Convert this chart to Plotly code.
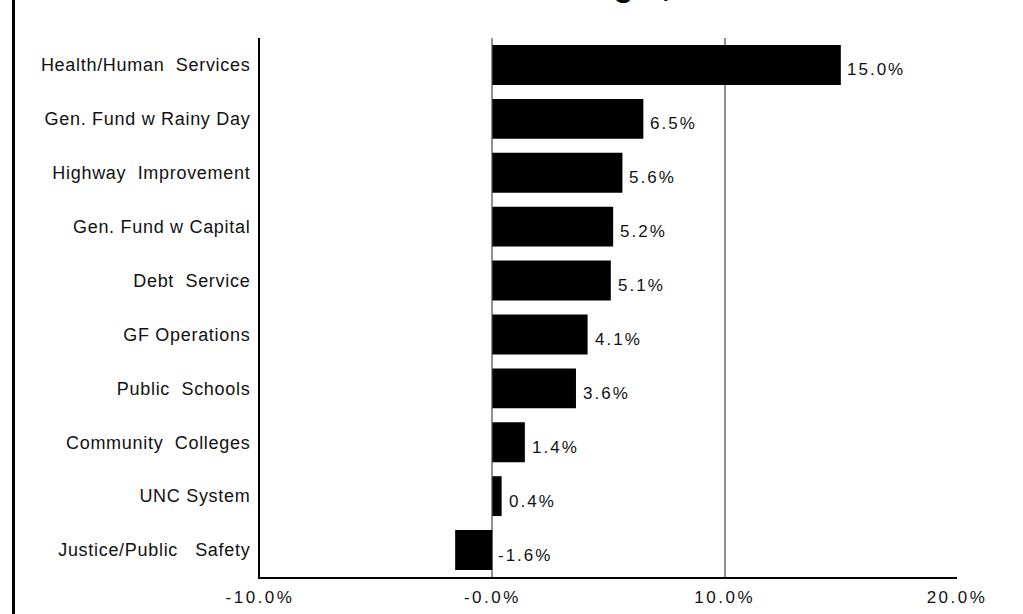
import plotly.graph_objects as go

categories = ["Health/Human\u00a0\u00a0Services", "Gen. Fund w Rainy Day", "Highway\u00a0\u00a0Improvement",
              "Gen. Fund w Capital", "Debt\u00a0\u00a0Service", "GF Operations", "Public\u00a0\u00a0Schools",
              "Community\u00a0\u00a0Colleges", "UNC System", "Justice/Public\u00a0\u00a0\u00a0Safety"]
values = [15.0, 6.5, 5.6, 5.2, 5.1, 4.1, 3.6, 1.4, 0.4, -1.6]
tick_vals = [-10, 0, 10, 20]
tick_text = ["-10.0%", "-0.0%", "10.0%", "20.0%"]
title_text = "Annual Growth in Budget, 2000-2010"

FONT = "Liberation Sans, Arial, sans-serif"

fig = go.Figure()
fig.add_trace(go.Bar(
    x=values, y=categories, orientation="h",
    marker=dict(color="#000000", line=dict(width=0)),
    width=0.74, showlegend=False, hoverinfo="skip",
))

annotations = []
for c, v in zip(categories, values):
    annotations.append(dict(
        x=max(v, 0), y=c, xref="x", yref="y", text=f"{v:.1f}%",
        showarrow=False, xanchor="left", yanchor="middle", xshift=9, yshift=-5,
        font=dict(family=FONT, size=17, color="#111111"),
    ))
annotations.append(dict(
    x=0.423, y=1, xref="paper", yref="paper", text=f"<b>{title_text}</b>",
    showarrow=False, xanchor="center", yanchor="bottom", yshift=33,
    font=dict(family=FONT, size=32, color="#000000"),
))

fig.update_layout(
    width=1023, height=614,
    margin=dict(l=260, r=66, t=38, b=37),
    paper_bgcolor="white", plot_bgcolor="white",
    annotations=annotations,
    xaxis=dict(
        range=[-10, 20], tickvals=tick_vals, ticktext=tick_text,
        showgrid=True, gridcolor="#909090", gridwidth=2,
        zeroline=False, showline=True, linecolor="#000000", linewidth=2,
        ticks="", tickfont=dict(family=FONT, size=17, color="#111111"),
        ticklabelstandoff=4, fixedrange=True, automargin=False,
    ),
    yaxis=dict(
        autorange="reversed", showgrid=False, zeroline=False,
        showline=True, linecolor="#000000", linewidth=2, ticks="",
        tickfont=dict(family=FONT, size=18, color="#111111"),
        ticklabelstandoff=4, fixedrange=True, automargin=False,
    ),
    shapes=[dict(type="line", xref="paper", yref="paper",
                 x0=(13.5 - 260) / 697, x1=(13.5 - 260) / 697, y0=-0.2, y1=1.2,
                 line=dict(color="#000000", width=3))],
)

post = """
var s = document.createElement('style');
s.innerHTML = '.xtick text {letter-spacing: 2.5px;} .ytick text {letter-spacing: 0.7px;} .annotation-text {letter-spacing: 2px;} .annotation:last-child .annotation-text {letter-spacing: 0px;}';
document.head.appendChild(s);
"""
fig.write_html("out.html", post_script=post)
